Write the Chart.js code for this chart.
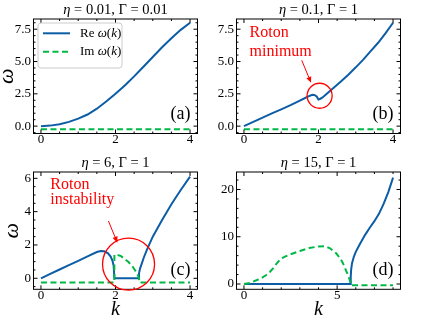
<!DOCTYPE html>
<html>
<head>
<meta charset="utf-8">
<script src="https://cdn.jsdelivr.net/npm/chart.js@4.4.1/dist/chart.umd.min.js"></script>
<style>
  html, body { margin: 0; padding: 0; background: #fff; }
  #wrap { position: relative; width: 446px; height: 327px; overflow: hidden; }
  canvas { position: absolute; }
</style>
</head>
<body>
<div id="wrap">
  <canvas id="pa" width="205" height="160" style="left:0;top:0"></canvas>
  <canvas id="pb" width="241" height="160" style="left:205px;top:0"></canvas>
  <canvas id="pc" width="205" height="177" style="left:0;top:150px"></canvas>
  <canvas id="pd" width="241" height="177" style="left:205px;top:150px"></canvas>
</div>
<script>
// --- Data ---
// (a) eta = 0.01, Gamma = 0.01
const kReA = [0, 0.25, 0.5, 0.75, 1, 1.25, 1.5, 1.75, 2, 2.25, 2.5, 2.75, 3, 3.25, 3.5, 3.75, 4];
const reA = [0, 0.04, 0.15, 0.33, 0.58, 0.9, 1.35, 1.9, 2.5, 3.15, 3.85, 4.6, 5.35, 6.1, 6.8, 7.45, 8.0];
const kImA = [0, 4];
const imA = [-0.25, -0.25];

// (b) eta = 0.1, Gamma = 1
const kReB = [0, 0.25, 0.5, 0.75, 1, 1.25, 1.5, 1.6, 1.7, 1.8, 1.85, 1.9, 1.95, 2, 2.05, 2.1, 2.2, 2.4, 2.6, 2.8, 3, 3.2, 3.4, 3.6, 3.8, 4];
const reB = [0, 0.33, 0.66, 0.99, 1.3, 1.62, 1.98, 2.12, 2.27, 2.39, 2.42, 2.4, 2.3, 2.06, 2.12, 2.2, 2.45, 2.95, 3.45, 3.98, 4.55, 5.15, 5.8, 6.45, 7.2, 8.0];
const kImB = [0, 4];
const imB = [-0.25, -0.25];

// (c) eta = 6, Gamma = 1
const kReC = [0, 0.25, 0.5, 0.75, 1, 1.25, 1.5, 1.6, 1.7, 1.8, 1.87, 1.92, 1.95, 1.97, 2.62, 2.63, 2.66, 2.7, 2.76, 2.85, 3, 3.25, 3.5, 3.75, 4];
const reC = [0, 0.27, 0.53, 0.79, 1.05, 1.32, 1.58, 1.64, 1.62, 1.5, 1.3, 1.05, 0.75, 0, 0, 0.3, 0.6, 0.85, 1.25, 1.75, 2.5, 3.5, 4.45, 5.3, 6.1];
const kImC = [0, 1.97, 1.97, 2.05, 2.15, 2.25, 2.35, 2.45, 2.52, 2.57, 2.6, 2.63, 2.64, 4];
const imC = [-0.25, -0.25, 1.42, 1.4, 1.33, 1.15, 0.98, 0.72, 0.5, 0.32, 0.18, 0, -0.25, -0.25];

// (d) eta = 15, Gamma = 1
const kReD = [0, 5.72, 5.73, 5.75, 5.8, 5.9, 6, 6.2, 6.5, 6.75, 7, 7.25, 7.5, 7.75, 8];
const reD = [0, 0, 1.5, 3.0, 4.4, 5.8, 6.8, 8.3, 10.4, 11.9, 13.3, 14.9, 17.0, 19.5, 22.5];
const kImD = [0, 0.35, 0.7, 1, 1.2, 1.4, 1.56, 1.75, 1.9, 2, 2.2, 2.5, 3, 3.5, 4, 4.3, 4.6, 4.95, 5.2, 5.31, 5.45, 5.58, 5.66, 5.71, 5.73, 8];
const imD = [0, 0.25, 0.85, 1.4, 1.9, 2.6, 3.3, 4.3, 5.0, 5.4, 5.8, 6.3, 7.0, 7.6, 7.95, 8.0, 7.6, 6.5, 5.2, 4.4, 3.1, 1.9, 1.0, 0.3, -0.25, -0.25];

// Tick values
const xTicks4 = [0, 2, 4];
const yTicksAB = [0, 2.5, 5, 7.5];
const yTicksC = [0, 2, 4, 6];
const xTicksD = [0, 5];
const yTicksD = [0, 10, 20];

const legendLabels = ['Re ω(k)', 'Im ω(k)'];

// --- Style ---
const BLUE = '#0C5DA5';
const GREEN = '#00B945';
const RED = '#ff0000';
const FONT = '"Liberation Serif", "DejaVu Serif", serif';
const ITALIC = 'ηωk';

// draw text char by char, italic for math letters
function drawRich(ctx, text, x, y, size, align) {
  const parts = [...text].map(ch => ({
    ch, font: (ITALIC.includes(ch) ? 'italic ' : '') + size + 'px ' + FONT
  }));
  let w = 0;
  parts.forEach(p => { ctx.font = p.font; p.w = ctx.measureText(p.ch).width; w += p.w; });
  let cx = align === 'center' ? x - w / 2 : align === 'right' ? x - w : x;
  ctx.textAlign = 'left';
  parts.forEach(p => { ctx.font = p.font; ctx.fillText(p.ch, cx, y); cx += p.w; });
}

function tickMarks(ctx, scale, a, major, minorStep, horiz) {
  const draw = (v, len) => {
    const p = scale.getPixelForValue(v);
    ctx.beginPath();
    if (horiz) {
      ctx.moveTo(p, a.bottom); ctx.lineTo(p, a.bottom - len);
      ctx.moveTo(p, a.top); ctx.lineTo(p, a.top + len);
    } else {
      ctx.moveTo(a.left, p); ctx.lineTo(a.left + len, p);
      ctx.moveTo(a.right, p); ctx.lineTo(a.right - len, p);
    }
    ctx.stroke();
  };
  major.forEach(v => draw(v, 4));
  const i0 = Math.ceil(scale.min / minorStep), i1 = Math.floor(scale.max / minorStep);
  for (let i = i0; i <= i1; i++) {
    const v = i * minorStep;
    if (!major.some(m => Math.abs(m - v) < 1e-6)) draw(v, 2);
  }
}

const decor = {
  id: 'decor',
  afterDraw(chart, args, o) {
    const { ctx, chartArea: a, scales: { x, y } } = chart;
    ctx.save();
    ctx.strokeStyle = '#000';
    ctx.lineWidth = 1;
    ctx.strokeRect(a.left, a.top, a.right - a.left, a.bottom - a.top);
    tickMarks(ctx, x, a, o.xTicks, o.minorX, true);
    tickMarks(ctx, y, a, o.yTicks, o.minorY, false);

    // title
    ctx.fillStyle = '#000';
    ctx.textBaseline = 'middle';
    drawRich(ctx, o.title, (a.left + a.right) / 2, a.top - 9, 14.5, 'center');

    // panel letter
    ctx.font = '18px ' + FONT;
    ctx.textAlign = 'right';
    ctx.fillText(o.letter, a.right - 7, a.bottom - 19);

    // legend
    if (o.legend) {
      const bx = a.left + 4.5, by = a.top + 4, bw = 84, bh = 45;
      ctx.fillStyle = 'rgba(255,255,255,0.85)';
      ctx.strokeStyle = '#cccccc';
      ctx.beginPath();
      ctx.roundRect(bx, by, bw, bh, 3);
      ctx.fill(); ctx.stroke();
      chart.data.datasets.forEach((ds, i) => {
        const ry = a.top + 14.3 + i * 18.4;
        ctx.strokeStyle = ds.borderColor;
        ctx.lineWidth = 2;
        ctx.setLineDash(ds.borderDash || []);
        ctx.beginPath(); ctx.moveTo(bx + 5, ry); ctx.lineTo(bx + 32, ry); ctx.stroke();
        ctx.setLineDash([]);
        ctx.fillStyle = '#000';
        ctx.textBaseline = 'middle';
        drawRich(ctx, legendLabels[i], bx + 42, ry, 13, 'left');
      });
    }

    // red annotation
    if (o.note) {
      const n = o.note;
      ctx.strokeStyle = RED; ctx.fillStyle = RED;
      ctx.lineWidth = 1.3;
      ctx.beginPath();
      ctx.arc(x.getPixelForValue(n.cx), y.getPixelForValue(n.cy), n.r, 0, 2 * Math.PI);
      ctx.stroke();
      const x1 = x.getPixelForValue(n.ax1), y1 = y.getPixelForValue(n.ay1);
      const x2 = x.getPixelForValue(n.ax2), y2 = y.getPixelForValue(n.ay2);
      const ang = Math.atan2(y2 - y1, x2 - x1);
      const hl = 6, hw = 2.6;
      ctx.lineWidth = 1;
      ctx.beginPath();
      ctx.moveTo(x1, y1);
      ctx.lineTo(x2 - hl * Math.cos(ang), y2 - hl * Math.sin(ang));
      ctx.stroke();
      ctx.beginPath();
      ctx.moveTo(x2, y2);
      ctx.lineTo(x2 - hl * Math.cos(ang) + hw * Math.sin(ang), y2 - hl * Math.sin(ang) - hw * Math.cos(ang));
      ctx.lineTo(x2 - hl * Math.cos(ang) - hw * Math.sin(ang), y2 - hl * Math.sin(ang) + hw * Math.cos(ang));
      ctx.closePath();
      ctx.fill();
      ctx.font = '16px ' + FONT;
      ctx.textAlign = 'left';
      ctx.textBaseline = 'alphabetic';
      n.lines.forEach((t, i) => ctx.fillText(t, x.getPixelForValue(n.tx), y.getPixelForValue(n.ty[i])));
    }
    ctx.restore();
  }
};

function series(ks, vs, color, dashed, order) {
  return {
    data: ks.map((k, i) => ({ x: k, y: vs[i] })),
    borderColor: color,
    borderWidth: 2,
    borderDash: dashed ? [6, 3.5] : undefined,
    pointRadius: 0,
    tension: 0,
    fill: false,
    order: order
  };
}

function makePanel(id, p) {
  const tickFont = { family: FONT, size: 13, lineHeight: 1 };
  return new Chart(document.getElementById(id), {
    type: 'line',
    data: {
      datasets: [
        series(p.kRe, p.re, BLUE, false, 1),
        series(p.kIm, p.im, GREEN, true, 0)
      ]
    },
    options: {
      responsive: false,
      animation: false,
      devicePixelRatio: 1,
      layout: { padding: p.pad },
      plugins: {
        legend: { display: false },
        tooltip: { enabled: false },
        decor: {
          title: p.title, letter: p.letter, legend: p.legend, note: p.note,
          xTicks: p.xTicks, yTicks: p.yTicks, minorX: p.minorX, minorY: p.minorY
        }
      },
      scales: {
        x: {
          type: 'linear', min: p.xMin, max: p.xMax,
          grid: { display: false, drawTicks: false }, border: { display: false },
          ticks: { font: tickFont, color: '#000', padding: 0, maxRotation: 0, autoSkip: false,
                   callback: v => String(v) },
          afterBuildTicks: s => { s.ticks = p.xTicks.map(v => ({ value: v })); },
          afterFit: s => { s.height = p.xh; },
          title: p.kTitle ? {
            display: true, text: 'k', color: '#000',
            font: { family: FONT, size: 20, style: 'italic', lineHeight: 1 },
            padding: { top: 0, bottom: 7 }
          } : { display: false }
        },
        y: {
          type: 'linear', min: p.yMin, max: p.yMax,
          grid: { display: false, drawTicks: false }, border: { display: false },
          ticks: { font: tickFont, color: '#000', padding: 2.5, autoSkip: false,
                   callback: v => p.fmt(v) },
          afterBuildTicks: s => { s.ticks = p.yTicks.map(v => ({ value: v })); },
          afterFit: s => { s.width = p.yw; },
          title: p.wTitle !== undefined ? {
            display: true, text: 'ω', color: '#000',
            font: { family: FONT, size: 22, style: 'italic', lineHeight: 1 },
            padding: { top: p.wTitle, bottom: 0 }
          } : { display: false }
        }
      }
    },
    plugins: [decor]
  });
}

const one = v => v.toFixed(1);
const int = v => String(v);

function drawAll() {
  makePanel('pa', {
    kRe: kReA, re: reA, kIm: kImA, im: imA,
    title: 'η = 0.01, Γ = 0.01', letter: '(a)', legend: true,
    xMin: -0.2, xMax: 4.2, yMin: -0.57, yMax: 8.29,
    xTicks: xTicks4, yTicks: yTicksAB, minorX: 0.5, minorY: 0.5, fmt: one,
    pad: { left: 0, right: 7.5, top: 19, bottom: 0 }, yw: 33.5, xh: 26.5, wTitle: -3.5
  });

  makePanel('pb', {
    kRe: kReB, re: reB, kIm: kImB, im: imB,
    title: 'η = 0.1, Γ = 1', letter: '(b)',
    xMin: -0.2, xMax: 4.2, yMin: -0.57, yMax: 8.29,
    xTicks: xTicks4, yTicks: yTicksAB, minorX: 0.5, minorY: 0.5, fmt: one,
    pad: { left: 0, right: 45.5, top: 19, bottom: 0 }, yw: 31.5, xh: 26.5,
    note: { lines: ['Roton', 'minimum'], tx: 0.15, ty: [6.92, 5.43],
            cx: 2.03, cy: 2.35, r: 12.5, ax1: 1.55, ay1: 5.1, ax2: 1.8, ay2: 3.35 }
  });

  makePanel('pc', {
    kRe: kReC, re: reC, kIm: kImC, im: imC,
    title: 'η = 6, Γ = 1', letter: '(c)', kTitle: true,
    xMin: -0.2, xMax: 4.2, yMin: -0.66, yMax: 6.38,
    xTicks: xTicks4, yTicks: yTicksC, minorX: 0.5, minorY: 0.5, fmt: int,
    pad: { left: 0, right: 7.5, top: 22, bottom: 0 }, yw: 33.5, xh: 37.7, wTitle: 1.5,
    note: { lines: ['Roton', 'instability'], tx: 0.25, ty: [5.36, 4.43],
            cx: 2.35, cy: 0.85, r: 26, ax1: 1.81, ay1: 3.44, ax2: 2.05, ay2: 2.14 }
  });

  makePanel('pd', {
    kRe: kReD, re: reD, kIm: kImD, im: imD,
    title: 'η = 15, Γ = 1', letter: '(d)', kTitle: true,
    xMin: -0.4, xMax: 8.4, yMin: -1.12, yMax: 23.7,
    xTicks: xTicksD, yTicks: yTicksD, minorX: 1, minorY: 2, fmt: int,
    pad: { left: 0, right: 45.5, top: 22, bottom: 0 }, yw: 31.5, xh: 37.7
  });
}

drawAll();
</script>
</body>
</html>
